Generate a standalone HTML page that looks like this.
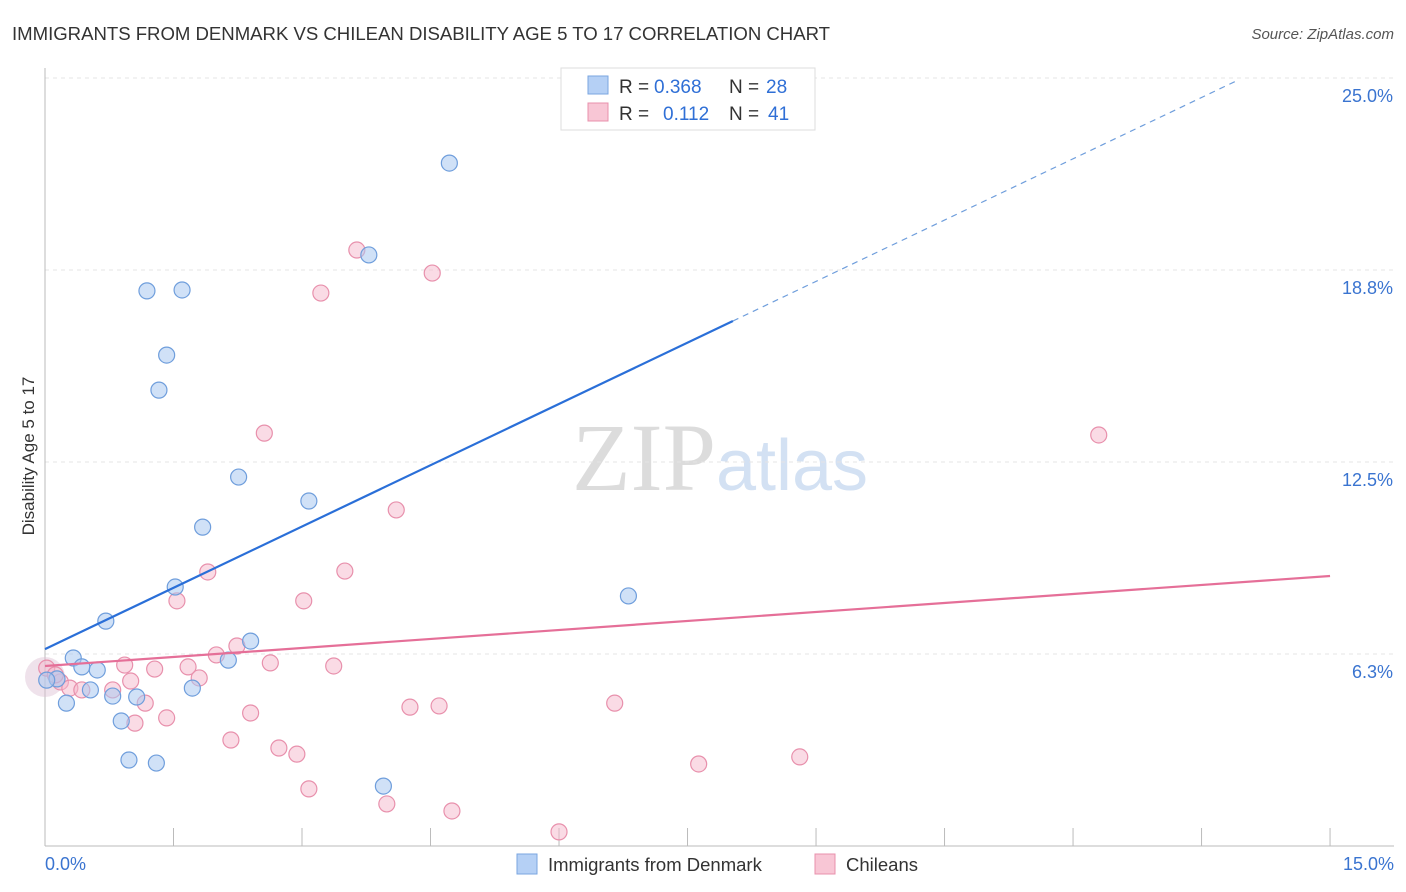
<!DOCTYPE html>
<html><head><meta charset="utf-8"><style>
body{margin:0;background:#fff;font-family:"Liberation Sans",sans-serif}
svg{display:block}
</style></head><body>
<svg id="c" width="1406" height="892">
<text x="12" y="40" font-size="18.6" fill="#333" textLength="818">IMMIGRANTS FROM DENMARK VS CHILEAN DISABILITY AGE 5 TO 17 CORRELATION CHART</text>
<text x="1394" y="39" font-size="15" fill="#555" font-style="italic" text-anchor="end">Source: ZipAtlas.com</text>
<text x="34" y="456" font-size="17" fill="#333" text-anchor="middle" transform="rotate(-90 34 456)">Disability Age 5 to 17</text>
<text x="720" y="490" font-size="96" text-anchor="middle" font-family="Liberation Serif,serif"><tspan fill="#dcdcdc">ZIP</tspan><tspan fill="#d3e1f3" font-family="Liberation Sans,sans-serif" font-size="72">atlas</tspan></text>
<g id="grid"></g><g id="marks"></g>
<g>
<rect x="561" y="68" width="254" height="62" fill="#fff" stroke="#ddd"/>
<rect x="588" y="76" width="20" height="18" fill="#b5d0f5" stroke="#7aa6e0"/>
<text x="619" y="93" font-size="19" fill="#333">R =</text>
<text x="654" y="93" font-size="19" fill="#2f6fd6">0.368</text>
<text x="729" y="93" font-size="19" fill="#333">N =</text>
<text x="766" y="93" font-size="19" fill="#2f6fd6">28</text>
<rect x="588" y="103" width="20" height="18" fill="#f8c6d5" stroke="#e890ac"/>
<text x="619" y="120" font-size="19" fill="#333">R =</text>
<text x="663" y="120" font-size="19" fill="#2f6fd6">0.112</text>
<text x="729" y="120" font-size="19" fill="#333">N =</text>
<text x="768" y="120" font-size="19" fill="#2f6fd6">41</text>
</g>
<g>
<rect x="517" y="854" width="20" height="20" fill="#b5d0f5" stroke="#7aa6e0"/>
<text x="548" y="871" font-size="18.5" fill="#333">Immigrants from Denmark</text>
<rect x="815" y="854" width="20" height="20" fill="#f8c6d5" stroke="#e890ac"/>
<text x="846" y="871" font-size="18.5" fill="#333">Chileans</text>
</g>
</svg>
<script>
const yTicks=[6.3,12.5,18.8,25.0];
const yTickVals=[6.25,12.5,18.75,25];
const xTicks=[0,1.5,3,4.5,6,7.5,9,10.5,12,13.5,15];
const blueX=[4.72,3.78,1.19,1.60,1.42,1.33,2.26,3.08,1.84,1.52,6.81,0.71,2.40,2.14,0.33,0.43,0.61,0.14,0.02,0.53,0.79,1.07,1.72,0.25,0.89,0.98,1.30,3.95];
const blueY=[22.23,19.24,18.07,18.10,15.98,14.84,12.01,11.23,10.38,8.43,8.14,7.32,6.67,6.05,6.12,5.83,5.73,5.44,5.40,5.08,4.88,4.85,5.14,4.65,4.07,2.80,2.70,1.95];
const pinkX=[3.64,4.52,3.22,2.56,12.30,4.10,1.90,3.50,1.54,3.02,2.24,2.00,0.93,1.28,1.67,2.63,3.37,1.80,0.02,0.18,0.29,0.43,0.79,1.00,1.17,1.05,1.42,2.40,4.26,4.60,6.65,2.17,2.73,2.94,7.63,8.81,3.08,3.99,4.75,6.00,0.12];
const pinkY=[19.40,18.65,18.00,13.44,13.38,10.94,8.92,8.95,7.98,7.98,6.51,6.22,5.89,5.76,5.83,5.96,5.86,5.47,5.79,5.34,5.14,5.08,5.08,5.37,4.65,4.00,4.17,4.33,4.52,4.56,4.65,3.45,3.19,2.99,2.67,2.90,1.86,1.37,1.14,0.46,5.57];
const blueLine=[6.41,17.09,8.03,13.9];
const pinkLine=[5.86,8.79];
const X=v=>45+v*85.67, Y=v=>846-v*30.72;
const NS="http://www.w3.org/2000/svg";
function mk(t,a,p){const e=document.createElementNS(NS,t);for(const k in a)e.setAttribute(k,a[k]);p.appendChild(e);return e;}
const g=document.getElementById('grid'),m=document.getElementById('marks');
yTickVals.forEach((v,i)=>{
 const l=mk('line',{x1:45,x2:1394,y1:Y(v),y2:Y(v),stroke:'#e4e4e4','stroke-dasharray':'4,4'},g);
 
 
 const t=mk('text',{x:1393,y:Y(v)+24,'font-size':18,fill:'#3a74d0','text-anchor':'end'},g);t.textContent=yTicks[i].toFixed(1)+'%';
 
 
});
const ax=mk('line',{x1:45,x2:1394,y1:846,y2:846,stroke:'#bbb'},g);


const ay=mk('line',{x1:45,x2:45,y1:68,y2:846,stroke:'#bbb'},g);


xTicks.forEach(v=>{const l=mk('line',{x1:X(v),x2:X(v),y1:828,y2:846,stroke:'#bbb'},g);
 
 });
[[0,'0.0%','start',45],[15,'15.0%','end',1394]].forEach(d=>{const t=mk('text',{x:d[3],y:870,'font-size':18,fill:'#3a74d0','text-anchor':d[2]},g);t.textContent=d[1];
 
 });
const big=mk('circle',{cx:X(0),cy:Y(5.5),r:20,fill:'rgba(220,190,210,0.45)',stroke:'none'},m);


function pts(xs,ys,f,s,n){xs.forEach((x,i)=>{const c=mk('circle',{cx:X(x),cy:Y(ys[i]),r:8,fill:f,stroke:s,'stroke-width':1.2},m);
 
 });}
pts(pinkX,pinkY,'rgba(245,184,203,0.5)','#e890ac','chileans-point');
pts(blueX,blueY,'rgba(169,200,240,0.55)','#6f9edc','denmark-point');
const slope=(blueLine[1]-blueLine[0])/blueLine[2];
const bl=mk('line',{x1:X(0),y1:Y(blueLine[0]),x2:X(blueLine[2]),y2:Y(blueLine[1]),stroke:'#2a6fd8','stroke-width':2.2},m);


const bd=mk('line',{x1:X(blueLine[2]),y1:Y(blueLine[1]),x2:X(blueLine[3]),y2:Y(blueLine[0]+slope*blueLine[3]),stroke:'#6f9edc','stroke-width':1.2,'stroke-dasharray':'6,5'},m);


const pl=mk('line',{x1:X(0),y1:Y(pinkLine[0]),x2:X(15),y2:Y(pinkLine[1]),stroke:'#e56f98','stroke-width':2.2},m);


</script>
</body></html>
